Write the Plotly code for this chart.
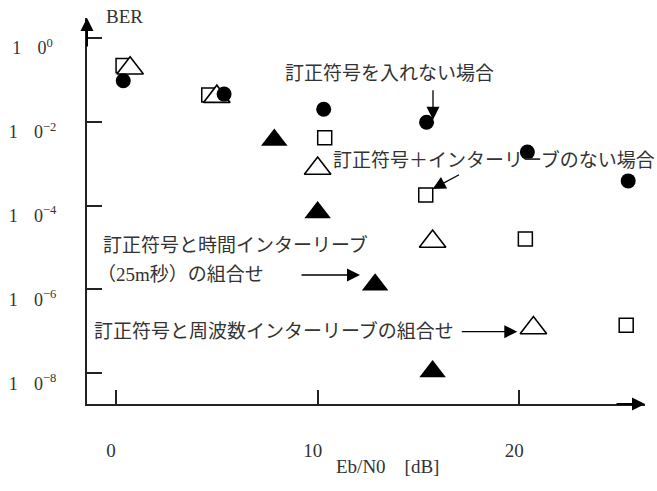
import plotly.graph_objects as go

# Eb/N0 [dB] and bit error rate for each transmission scheme
ebn0_no_fec = [0.36, 5.36, 10.3, 15.4, 20.4, 25.4]
ber_no_fec = [9.6e-2, 4.6e-2, 2.0e-2, 9.8e-3, 1.9e-3, 3.9e-4]

ebn0_fec_only = [0.35, 4.6, 10.35, 15.36, 20.3, 25.3]
ber_fec_only = [2.2e-1, 4.4e-2, 4.2e-3, 1.8e-4, 1.6e-5, 1.4e-7]

ebn0_fec_freq = [0.7, 5.0, 10.0, 15.7, 20.7]
ber_fec_freq = [1.9e-1, 4.0e-2, 7.7e-4, 1.4e-5, 1.2e-7]

ebn0_fec_time = [7.85, 10.0, 12.85, 15.7]
ber_fec_time = [3.7e-3, 6.9e-5, 1.3e-6, 1.1e-8]

x_tick_vals = [0, 10, 20]
x_tick_text = ["0", "10", "20"]
y_tick_vals = [1, 1e-2, 1e-4, 1e-6, 1e-8]
y_tick_text = [
    "1\u2002\u2009\u20090<sup>0</sup>\u2009",
    "1\u2002\u2009\u20090<sup>\u22122</sup>",
    "1\u2002\u2009\u20090<sup>\u22124</sup>",
    "1\u2002\u2009\u20090<sup>\u22126</sup>",
    "1\u2002\u2009\u20090<sup>\u22128</sup>",
]

INK = "#333333"
SERIF = "Liberation Serif, Noto Sans CJK JP, serif"
JP = "Liberation Serif, Noto Sans CJK JP, sans-serif"

fig = go.Figure()

fig.add_trace(go.Scatter(
    x=ebn0_fec_only, y=ber_fec_only, mode="markers", name="訂正符号のみ",
    marker=dict(symbol="square", size=14, color="white",
                line=dict(color="black", width=1.5)),
))
fig.add_trace(go.Scatter(
    x=ebn0_fec_freq, y=ber_fec_freq, mode="markers", name="周波数インターリーブ",
    marker=dict(symbol="triangle-up", size=23, color="white",
                line=dict(color="black", width=1.6)),
))
fig.add_trace(go.Scatter(
    x=ebn0_fec_time, y=ber_fec_time, mode="markers", name="時間インターリーブ",
    marker=dict(symbol="triangle-up", size=23, color="black",
                line=dict(color="black", width=0)),
))
fig.add_trace(go.Scatter(
    x=ebn0_no_fec, y=ber_no_fec, mode="markers", name="訂正符号なし",
    marker=dict(symbol="circle", size=15, color="black",
                line=dict(color="black", width=0)),
))

annotations = []

# captions
def caption(text, x, y, xanchor="center"):
    annotations.append(dict(
        text=text, x=x, y=y, xref="x", yref="y", showarrow=False,
        xanchor=xanchor, yanchor="middle",
        font=dict(family=JP, size=19, color=INK),
    ))

caption("訂正符号を入れない場合", 13.55, -0.834)
caption("訂正符号＋インターリーブのない場合", 18.72, -2.910)
caption("訂正符号と時間インターリーブ", -0.75, -4.938, "left")
caption("（25m秒）の組合せ", -1.05, -5.642, "left")
caption("訂正符号と周波数インターリーブの組合せ", -1.2, -6.991, "left")

# pointer arrows (tip at x, y; tail offset in pixels)
def pointer(x, y, ax, ay):
    annotations.append(dict(
        text="", x=x, y=y, xref="x", yref="y", ax=ax, ay=ay,
        showarrow=True, arrowhead=2, arrowsize=2, arrowwidth=1.3,
        arrowcolor="black",
    ))

pointer(15.72, -1.95, 0, -31)
pointer(15.70, -3.60, 28, -15)
pointer(12.10, -5.654, -60, 0)
pointer(19.90, -7.007, -57, 0)

# axis arrowheads
annotations.append(dict(
    text="", x=0, y=1, xref="paper", yref="paper", ax=0, ay=30,
    showarrow=True, arrowhead=2, arrowsize=1.3, arrowwidth=2,
    arrowcolor="black",
))
annotations.append(dict(
    text="", x=1, y=0, xref="paper", yref="paper", ax=-30, ay=0,
    showarrow=True, arrowhead=2, arrowsize=1.3, arrowwidth=2,
    arrowcolor="black",
))

# axis titles
annotations.append(dict(
    text="BER", x=0.03, y=1.003, xref="paper", yref="paper",
    showarrow=False, xanchor="left", yanchor="middle",
    font=dict(family=SERIF, size=19, color=INK),
))
annotations.append(dict(
    text="Eb/N0\u2003[dB]", x=0.538, y=-0.162, xref="paper", yref="paper",
    showarrow=False, xanchor="center", yanchor="middle",
    font=dict(family=SERIF, size=19, color=INK),
))

fig.update_layout(
    width=657, height=491,
    margin=dict(l=87, r=12, t=18, b=87),
    paper_bgcolor="white", plot_bgcolor="white",
    showlegend=False,
    annotations=annotations,
    xaxis=dict(
        range=[-1.438, 26.233], showgrid=False, zeroline=False,
        automargin=False,
        showline=True, linecolor="#222222", linewidth=2,
        ticks="inside", ticklen=14, tickwidth=1.5, tickcolor="#222222",
        tickvals=x_tick_vals, ticktext=x_tick_text,
        ticklabelstandoff=28, ticklabelshift=-5,
        tickfont=dict(family=SERIF, size=19, color=INK),
    ),
    yaxis=dict(
        type="log", range=[-8.733, 0.479], showgrid=False, zeroline=False,
        automargin=False,
        showline=True, linecolor="#222222", linewidth=2,
        ticks="inside", ticklen=15, tickwidth=1.5, tickcolor="#222222",
        tickvals=y_tick_vals, ticktext=y_tick_text,
        ticklabelstandoff=25, ticklabelshift=10,
        tickfont=dict(family=SERIF, size=18, color=INK),
    ),
)

fig.write_html("out.html")
